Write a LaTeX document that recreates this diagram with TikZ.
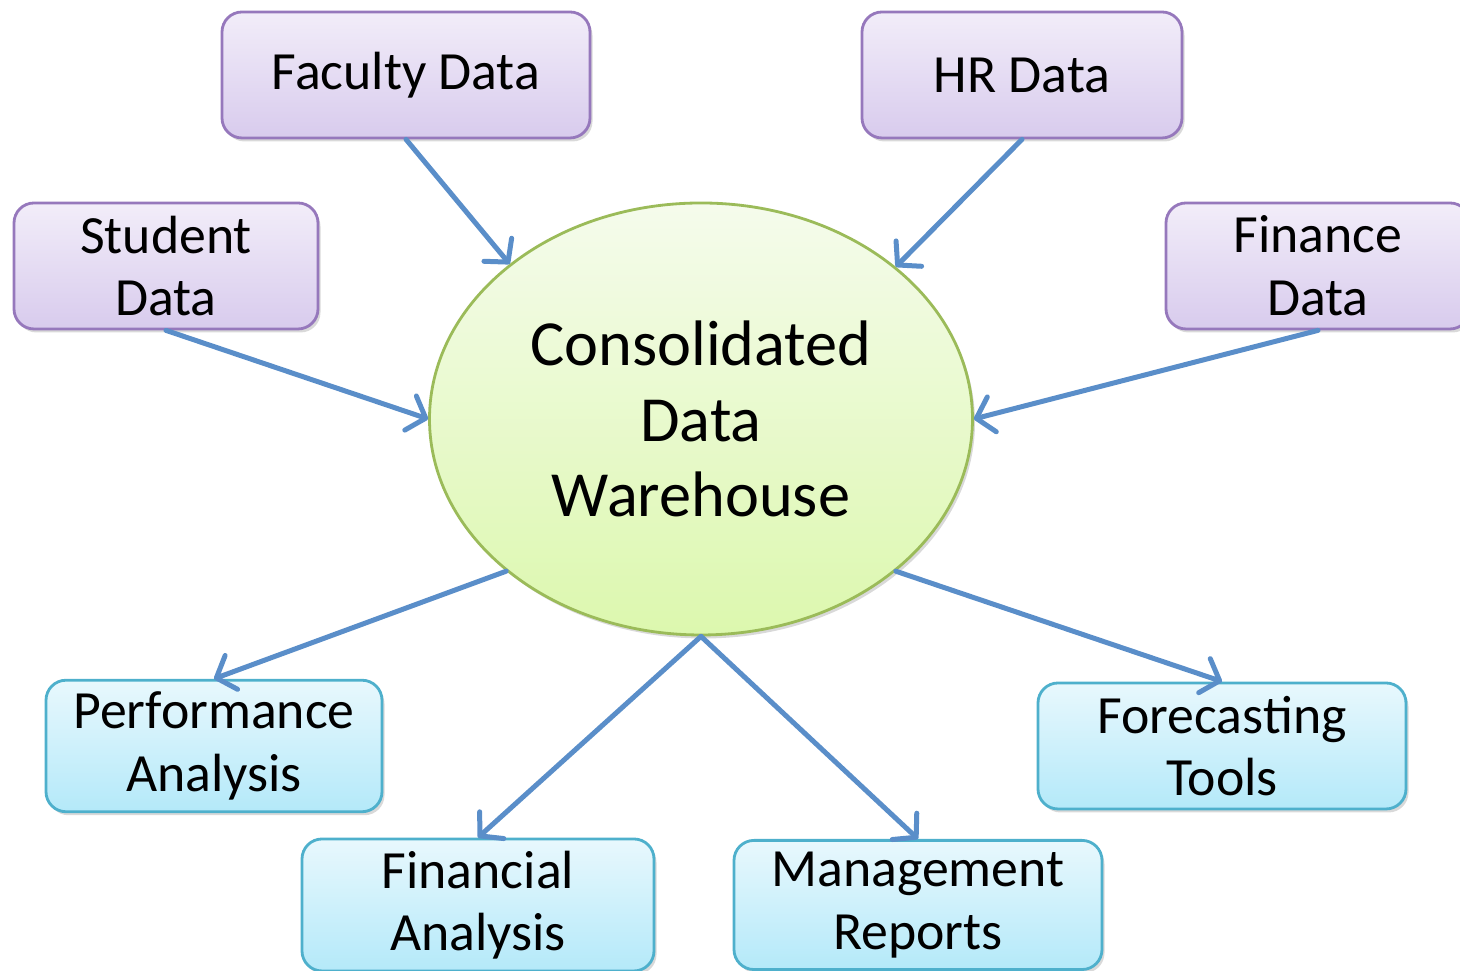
\documentclass[tikz,border=0pt]{standalone}
\usepackage{fontspec}
\setmainfont{Carlito}
\usetikzlibrary{arrows.meta,shapes.geometric,shadows}

\definecolor{srcline}{RGB}{150,120,188}
\definecolor{srctop}{RGB}{242,237,249}
\definecolor{srcbot}{RGB}{216,203,237}
\definecolor{outline}{RGB}{78,176,204}
\definecolor{outtop}{RGB}{232,248,253}
\definecolor{outbot}{RGB}{180,233,249}
\definecolor{hubline}{RGB}{155,187,89}
\definecolor{hubtop}{RGB}{245,251,236}
\definecolor{hubbot}{RGB}{220,248,174}
\definecolor{flowblue}{RGB}{90,142,201}

\begin{document}
\begin{tikzpicture}[every node/.style={black},
	box/.style={line width=0.8pt,rounded corners=0.2cm,minimum height=1.26cm,
		align=center,font=\fontsize{15.3}{17.8}\selectfont,
		drop shadow={shadow xshift=0.025cm,shadow yshift=-0.035cm,opacity=0.3}},
	srcbox/.style={box,draw=srcline,top color=srctop,bottom color=srcbot},
	outbox/.style={box,draw=outline,top color=outtop,bottom color=outbot},
	hub/.style={ellipse,draw=hubline,line width=0.8pt,top color=hubtop,bottom color=hubbot,
		minimum width=5.43cm,minimum height=4.32cm,inner sep=0pt,align=center,
		font=\fontsize{18.3}{21.5}\selectfont,
		drop shadow={shadow xshift=0.025cm,shadow yshift=-0.035cm,opacity=0.3}},
	flow/.style={flowblue,line width=0.05cm,line cap=round,
		-{Straight Barb[length=0.16cm,width=0.36cm,round]}}]
	\useasboundingbox (0,0) rectangle (14.6,9.71);

	% sources
	\node[srcbox,minimum width=3.68cm] (faculty) at (4.06,8.96) {Faculty Data};
	\node[srcbox,minimum width=3.20cm] (hr) at (10.22,8.96) {HR Data};
	\node[srcbox,minimum width=3.04cm] (student) at (1.66,7.05) {Student\\Data};
	\node[srcbox,minimum width=3.04cm] (finance) at (13.18,7.05) {Finance\\Data};

	\node[hub] (cdw) at (7.01,5.52) {Consolidated\\Data\\Warehouse};

	% outputs
	\node[outbox,minimum width=3.36cm] (perf) at (2.14,2.25) {Performance\\Analysis};
	\node[outbox,minimum width=3.52cm] (fin) at (4.78,0.66) {Financial\\Analysis};
	\node[outbox,minimum width=3.68cm] (mgmt) at (9.18,0.66) {Management\\Reports};
	\node[outbox,minimum width=3.68cm] (fcast) at (12.22,2.25) {Forecasting\\Tools};

	\draw[flow] (faculty.south) -- (cdw.141);
	\draw[flow] (hr.south) -- (cdw.38);
	\draw[flow] (student.south) -- (cdw.180);
	\draw[flow] (finance.south) -- (cdw.0);

	\draw[flow] (cdw.218) -- (perf.north);
	\draw[flow] (cdw.270) -- (fin.north);
	\draw[flow] (cdw.270) -- (mgmt.north);
	\draw[flow] (cdw.322) -- (fcast.north);
\end{tikzpicture}
\end{document}
